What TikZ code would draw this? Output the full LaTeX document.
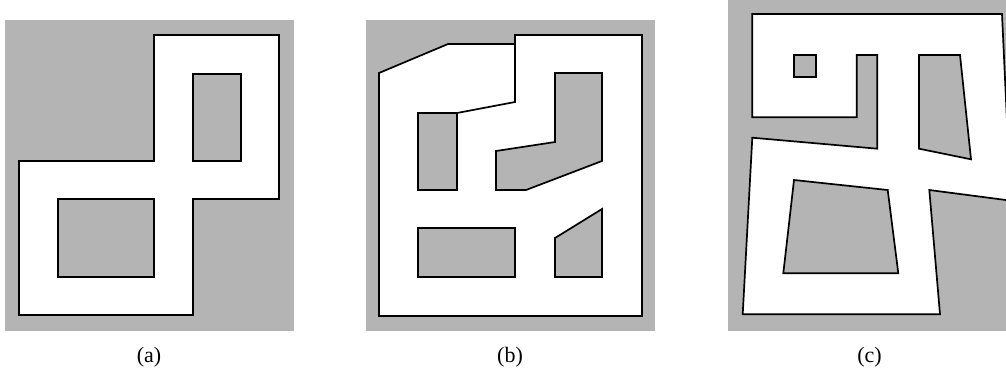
\documentclass[tikz,border=0pt]{standalone}
\usepackage{fontspec}
\setmainfont{Liberation Serif}
\definecolor{mapgray}{RGB}{179,180,179}

\begin{document}
\begin{tikzpicture}[x=0.5pt, y=-0.5pt, line width=0.85pt, every node/.style={font=\fontsize{11}{13}\selectfont}, bg/.style={fill=mapgray}, room/.style={draw, fill=white}, obst/.style={draw, fill=mapgray}]
\useasboundingbox (0,0) rectangle (1006,371);
% (a)
\fill[bg] (5,20) rectangle (294,331);
\draw[room] (154,35) -- (279,35) -- (279,199) -- (193,199) -- (193,315) -- (19,315) -- (19,161) -- (154,161) -- cycle;
\draw[obst] (193,74) rectangle (241,161);
\draw[obst] (58,199) rectangle (154,277);
\node (la) at (149,357) {(a)};
% (b)
\fill[bg] (366,20) rectangle (655,331);
\draw[room] (379,73) -- (448,44) -- (515,44) -- (515,35) -- (642,35) -- (642,316) -- (379,316) -- cycle;
\draw (515,44) -- (515,102) -- (457,113);
\draw[obst] (418,113) rectangle (457,190);
\draw[obst] (555,73) -- (602,73) -- (602,161) -- (526,190) -- (496,190) -- (496,151) -- (555,142) -- cycle;
\draw[obst] (418,228) rectangle (515,277);
\draw[obst] (555,238) -- (602,209) -- (602,277) -- (555,277) -- cycle;
\node (lb) at (510,357) {(b)};
% (c)
\begin{scope}
\clip (728,0) rectangle (1006,331);
\fill[bg] (728,0) rectangle (1006,331);
\draw[room] (752.3,14) -- (1002,14) -- (1009.7,180) -- (1012,200.8) -- (929.3,190) -- (940,314.3) -- (742.7,314.3) -- (752.3,137.7) -- (877.3,148.7) -- (877.3,55) -- (856.7,55) -- (856.7,117.3) -- (752.3,117.3) -- cycle;
\draw[obst] (794,55) rectangle (815.7,76.7);
\draw[obst] (919,55) -- (960,55) -- (971,159.3) -- (919,148.7) -- cycle;
\draw[obst] (794,180) -- (887.7,190) -- (898.3,273.3) -- (783.3,273.3) -- cycle;
\end{scope}
\node (lc) at (869.5,357) {(c)};
\end{tikzpicture}
\end{document}
